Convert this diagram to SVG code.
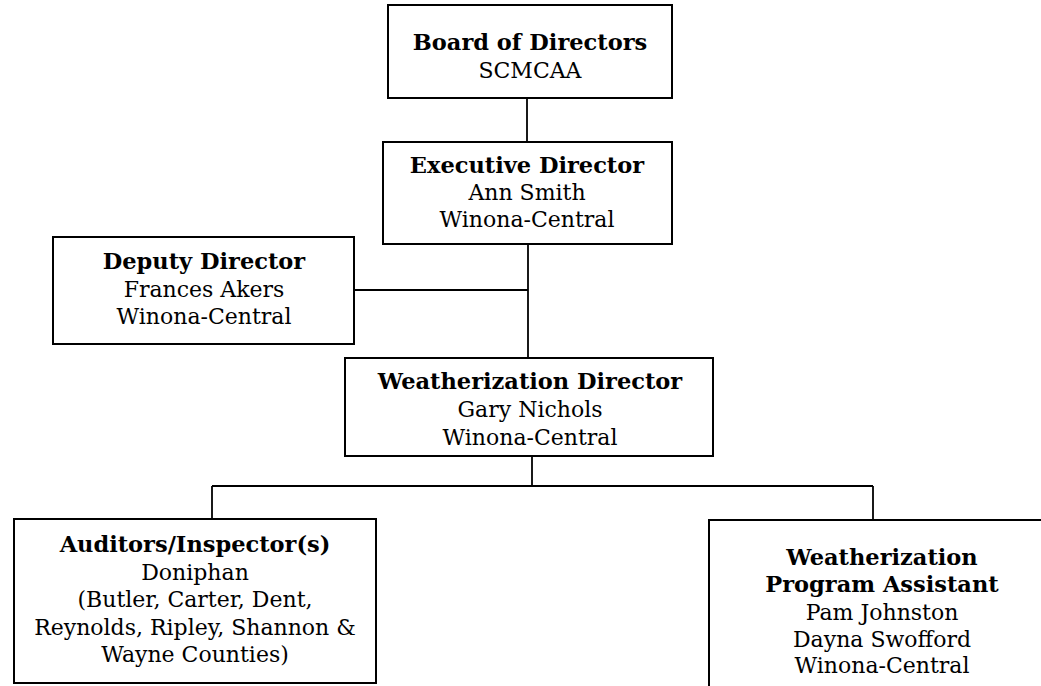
<svg xmlns="http://www.w3.org/2000/svg" width="1041" height="686" viewBox="0 0 1041 686">
<style>
.box{fill:#fff;stroke:#000;stroke-width:2}
.ln{fill:none;stroke:#000;stroke-width:1.8}
text{font-family:"DejaVu Serif","Liberation Serif",serif;font-size:22px;fill:#000;text-anchor:middle}
.b{font-weight:bold;font-size:22.5px}
</style>
<rect width="1041" height="686" fill="#fff"/>
<g id="connectors">
<path class="ln" d="M527 98V142"/>
<path class="ln" d="M528 244V358"/>
<path class="ln" d="M354 290H528"/>
<path class="ln" d="M532 456V486"/>
<path class="ln" d="M212 486H873"/>
<path class="ln" d="M212 486V519"/>
<path class="ln" d="M873 486V520"/>
</g>
<g id="board">
<rect class="box" x="388" y="5" width="284" height="93"/>
<text x="530" y="50" class="b">Board of Directors</text>
<text x="530" y="78">SCMCAA</text>
</g>
<g id="executive">
<rect class="box" x="383" y="142" width="289" height="102"/>
<text x="527" y="173" class="b">Executive Director</text>
<text x="527" y="200">Ann Smith</text>
<text x="527" y="227">Winona-Central</text>
</g>
<g id="deputy">
<rect class="box" x="53" y="237" width="301" height="107"/>
<text x="204" y="269" class="b">Deputy Director</text>
<text x="204" y="297">Frances Akers</text>
<text x="204" y="324">Winona-Central</text>
</g>
<g id="weatherization-director">
<rect class="box" x="345" y="358" width="368" height="98"/>
<text x="530" y="389" class="b">Weatherization Director</text>
<text x="530" y="417">Gary Nichols</text>
<text x="530" y="445">Winona-Central</text>
</g>
<g id="auditors">
<rect class="box" x="14" y="519" width="362" height="164"/>
<text x="195" y="552" class="b">Auditors/Inspector(s)</text>
<text x="195" y="580">Doniphan</text>
<text x="195" y="607">(Butler, Carter, Dent,</text>
<text x="195" y="635">Reynolds, Ripley, Shannon &amp;</text>
<text x="195" y="662">Wayne Counties)</text>
</g>
<g id="program-assistant">
<rect class="box" x="709" y="520" width="346" height="190"/>
<text x="882" y="565" class="b">Weatherization</text>
<text x="882" y="592" class="b">Program Assistant</text>
<text x="882" y="620">Pam Johnston</text>
<text x="882" y="647">Dayna Swofford</text>
<text x="882" y="673">Winona-Central</text>
</g>
</svg>
